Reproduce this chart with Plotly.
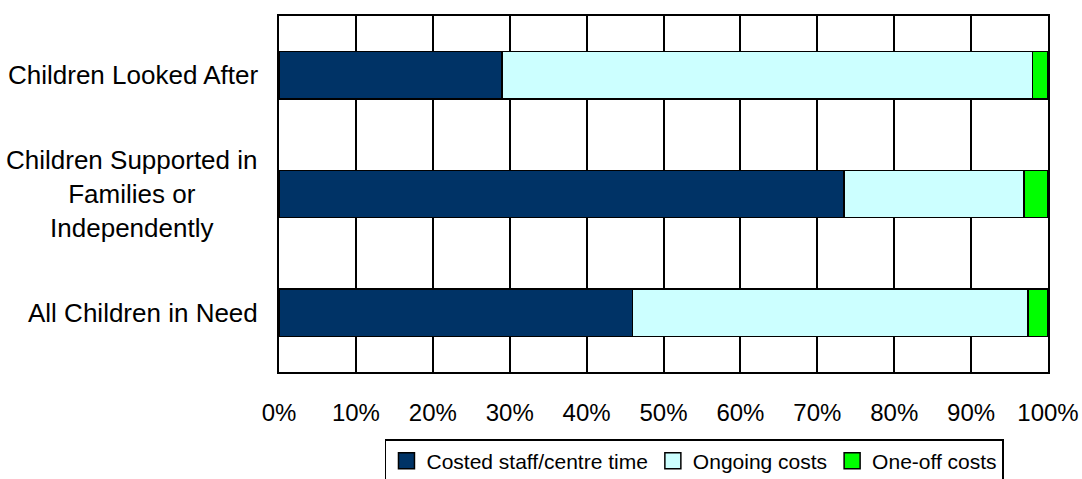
import plotly.graph_objects as go

# Share of costs by cost type, per category of children (top to bottom)
categories = [
    "Children Looked After",
    "Children Supported in<br>Families or<br>Independently",
    "All Children in Need",
]
staff_time = [0.290, 0.735, 0.460]
ongoing_costs = [0.690, 0.234, 0.514]
one_off_costs = [0.020, 0.031, 0.026]

series_names = ["Costed staff/centre time", "Ongoing costs", "One-off costs"]
series_colors = ["#003366", "#CCFFFF", "#00FF00"]
series_values = [staff_time, ongoing_costs, one_off_costs]

FONT = "Liberation Sans, Arial, sans-serif"

fig = go.Figure()
for name, color, vals in zip(series_names, series_colors, series_values):
    fig.add_trace(go.Bar(
        y=categories,
        x=vals,
        name=name,
        orientation="h",
        width=0.4,
        marker=dict(color=color, line=dict(color="#000000", width=1.5)),
        showlegend=False,
        hoverinfo="x+name",
    ))

# Legend entries drawn as larger square markers
for name, color in zip(series_names, series_colors):
    fig.add_trace(go.Scatter(
        x=[None], y=[None], mode="markers", name=name,
        marker=dict(symbol="square", size=16, color=color,
                    line=dict(color="#000000", width=1.5)),
    ))

# Category labels, centred line by line, to the left of the plot area
for cat in categories:
    fig.add_annotation(
        x=0, xref="paper", y=cat, yref="y",
        text=cat, showarrow=False,
        xanchor="right", xshift=-19, align="center",
        font=dict(family=FONT, size=26, color="#000000"),
    )

fig.update_layout(
    width=1082, height=479,
    margin=dict(l=279, r=34, t=16, b=107),
    paper_bgcolor="#FFFFFF",
    plot_bgcolor="#FFFFFF",
    barmode="stack",
    font=dict(family=FONT, size=24, color="#000000"),
    legend=dict(
        orientation="h",
        traceorder="normal",
        xref="container", yref="container",
        x=0.3558, xanchor="left",
        y=0.0835, yanchor="top",
        bordercolor="#000000", borderwidth=1.5,
        bgcolor="#FFFFFF",
        font=dict(family=FONT, size=21, color="#000000"),
        itemwidth=30,
        tracegroupgap=0,
    ),
    xaxis=dict(
        range=[0, 1],
        dtick=0.1,
        tickformat=".0%",
        showgrid=True, gridcolor="#000000", gridwidth=1.5,
        showline=True, linecolor="#000000", linewidth=2, mirror=True,
        zeroline=False,
        ticks="", ticklabelstandoff=18,
        tickfont=dict(family=FONT, size=24, color="#000000"),
        automargin=False,
        fixedrange=True,
    ),
    yaxis=dict(
        autorange="reversed",
        showticklabels=False,
        showgrid=False,
        showline=True, linecolor="#000000", linewidth=2, mirror=True,
        ticks="",
        automargin=False,
        fixedrange=True,
    ),
)

fig.write_html("out.html")
